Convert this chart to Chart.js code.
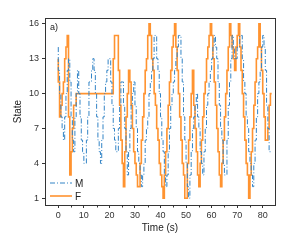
<!DOCTYPE html>
<html>
<head>
<meta charset="utf-8">
<script src="https://cdn.jsdelivr.net/npm/chart.js@4.4.0/dist/chart.umd.min.js"></script>
<style>
  html, body { margin: 0; padding: 0; background: #fff; }
  #wrap { width: 294px; height: 251px; }
</style>
</head>
<body>
<div id="wrap"><canvas id="c" width="294" height="251"></canvas></div>
<script>
// one sample every half second, 0 .. 83.5 s
const times = [];
for (let i = 0; i < 168; i++) times.push(i / 2);

const seriesM = [
  14, 12, 10, 8, 7, 6, 8, 10, 12, 13,
  11, 8, 6, 5, 8, 10, 12, 10, 8, 6,
  5, 4, 4, 6, 8, 11, 11, 12, 13, 12,
  10, 8, 6, 5, 4, 6, 8, 10, 11, 12,
  13, 13, 11, 9, 7, 6, 5, 5, 7, 9,
  11, 11, 9, 7, 5, 3, 5, 7, 9, 10,
  11, 9, 7, 5, 4, 3, 2, 3, 4, 6,
  7, 8, 10, 11, 12, 13, 15, 15, 13, 12,
  10, 8, 6, 5, 3, 2, 3, 5, 7, 9,
  10, 11, 12, 13, 14, 15, 15, 13, 11, 8,
  6, 4, 2, 1, 3, 5, 7, 8, 9, 10,
  8, 7, 5, 4, 3, 5, 7, 9, 10, 11,
  12, 13, 14, 15, 14, 13, 11, 9, 7, 6,
  4, 3, 3, 6, 9, 11, 13, 15, 14, 13,
  13, 14, 14, 15, 15, 13, 11, 10, 8, 7,
  5, 4, 3, 2, 4, 6, 8, 10, 11, 12,
  14, 15, 14, 12, 9, 7, 5, 5
];

const seriesF = [
  13, 11, 8, 9, 10, 11, 13, 14, 15, 8,
  3, 5, 7, 9, 9, 10, 10, 10, 10, 10,
  10, 10, 10, 10, 10, 10, 10, 10, 10, 10,
  10, 10, 10, 10, 10, 10, 10, 10, 10, 10,
  10, 10, 10, 10, 13, 15, 15, 15, 12, 9,
  6, 4, 2, 5, 8, 10, 12, 11, 9, 7,
  5, 4, 3, 2, 2, 4, 6, 8, 10, 12,
  13, 15, 16, 15, 13, 12, 10, 9, 7, 6,
  4, 3, 2, 1, 3, 5, 7, 9, 11, 12,
  14, 15, 16, 14, 12, 10, 8, 6, 4, 3,
  1, 1, 4, 6, 8, 10, 12, 9, 7, 5,
  3, 2, 4, 6, 8, 10, 11, 13, 14, 15,
  16, 15, 13, 11, 9, 7, 5, 3, 2, 4,
  6, 8, 10, 12, 14, 16, 15, 14, 13, 12,
  14, 15, 16, 14, 12, 10, 8, 6, 4, 3,
  1, 3, 5, 7, 9, 11, 13, 14, 16, 14,
  12, 10, 8, 6, 6, 7, 9, 10
];

const xTicks = [0, 10, 20, 30, 40, 50, 60, 70, 80];
const xMinorTicks = [5, 15, 25, 35, 45, 55, 65, 75];
const yTicks = [1, 4, 7, 10, 13, 16];

const textColor = '#333';
const fontFamily = 'Liberation Sans, Arial, sans-serif';

const toPoints = vals => vals.map((v, i) => ({ x: times[i], y: v }));

const frame = {
  id: 'frame',
  afterDraw(chart) {
    const { ctx, chartArea: a, scales } = chart;
    ctx.save();
    ctx.strokeStyle = '#333';
    ctx.lineWidth = 1;
    ctx.strokeRect(a.left + 0.5, a.top + 0.5, a.right - a.left, a.bottom - a.top);
    // minor x ticks
    ctx.beginPath();
    xMinorTicks.forEach(t => {
      const px = Math.round(scales.x.getPixelForValue(t)) + 0.5;
      ctx.moveTo(px, a.bottom + 0.5);
      ctx.lineTo(px, a.bottom + 2.5);
    });
    ctx.stroke();
    // panel label
    ctx.fillStyle = '#222';
    ctx.font = '9px ' + fontFamily;
    ctx.textBaseline = 'middle';
    ctx.fillText('a)', a.left + 5, a.top + 10);
    // legend
    const ds = chart.data.datasets;
    const lx = a.left + 5, ly = [a.bottom - 22, a.bottom - 9];
    ds.forEach((d, i) => {
      ctx.beginPath();
      ctx.strokeStyle = d.borderColor;
      ctx.lineWidth = d.borderWidth;
      ctx.setLineDash(d.borderDash || []);
      ctx.moveTo(lx, ly[i]);
      ctx.lineTo(lx + 22, ly[i]);
      ctx.stroke();
      ctx.setLineDash([]);
      ctx.fillStyle = '#222';
      ctx.font = '10px ' + fontFamily;
      ctx.fillText(d.label, lx + 25, ly[i] + 1);
    });
    ctx.restore();
  }
};

new Chart(document.getElementById('c'), {
  type: 'line',
  data: {
    datasets: [
      {
        label: 'M',
        data: toPoints(seriesM),
        borderColor: '#3384c6',
        borderWidth: 1,
        borderDash: [5, 2, 1, 2],
        stepped: 'after',
        pointRadius: 0,
        fill: false
      },
      {
        label: 'F',
        data: toPoints(seriesF),
        borderColor: '#ff9330',
        borderWidth: 1.6,
        stepped: 'after',
        pointRadius: 0,
        fill: false
      }
    ]
  },
  options: {
    responsive: false,
    animation: false,
    events: [],
    layout: { padding: { left: 0, right: 19, top: 18, bottom: 16 } },
    plugins: { legend: { display: false }, tooltip: { enabled: false } },
    scales: {
      x: {
        type: 'linear',
        min: -5.2,
        max: 84.8,
        afterBuildTicks: s => { s.ticks = xTicks.map(v => ({ value: v })); },
        afterFit: s => { s.height = 30; },
        grid: { drawOnChartArea: false, tickLength: 3, color: '#333' },
        border: { display: false },
        ticks: { color: textColor, font: { size: 9, family: fontFamily }, padding: 2, maxRotation: 0 },
        title: { display: true, text: 'Time (s)', color: '#222', font: { size: 10, family: fontFamily }, padding: { top: 2, bottom: 1 } }
      },
      y: {
        type: 'linear',
        min: 0.42,
        max: 16.5,
        afterBuildTicks: s => { s.ticks = yTicks.map(v => ({ value: v })); },
        afterFit: s => { s.width = 45; },
        grid: { drawOnChartArea: false, tickLength: 3, color: '#333' },
        border: { display: false },
        ticks: { color: textColor, font: { size: 9, family: fontFamily }, padding: 3 },
        title: { display: true, text: 'State', color: '#222', font: { size: 10, family: fontFamily }, padding: { top: 12, bottom: 0 } }
      }
    }
  },
  plugins: [frame]
});
</script>
</body>
</html>
